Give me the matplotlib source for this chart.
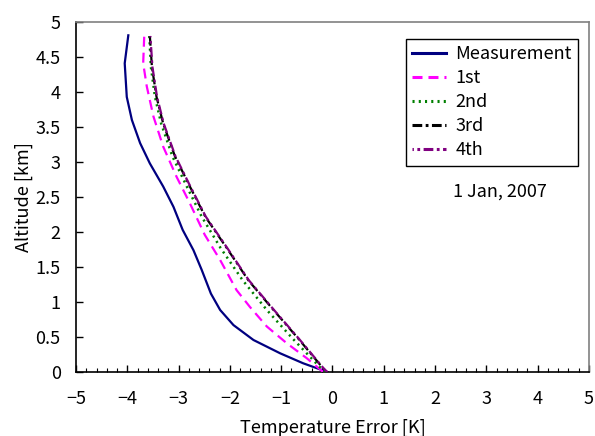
import numpy as np
import matplotlib
matplotlib.use("Agg")
import matplotlib.pyplot as plt
import matplotlib.ticker as mticker

plt.rcParams.update({
    "font.family": ["Noto Sans CJK JP", "DejaVu Sans"],
    "font.size": 13,
    "axes.unicode_minus": True,
    "lines.scale_dashes": False,
})

# altitude [km] vs temperature error [K]
alt_meas = [4.81, 4.41, 3.93, 3.6, 3.27, 2.98, 2.65, 2.36, 2.03, 1.74, 1.46, 1.12,
            0.886, 0.67, 0.457, 0.267, 0.124, 0.0]
err_meas = [-3.98, -4.05, -4.01, -3.91, -3.75, -3.56, -3.30, -3.10, -2.92, -2.71, -2.55, -2.37,
            -2.19, -1.93, -1.54, -1.02, -0.57, -0.10]

alt_1st = [4.79, 4.41, 4.08, 3.65, 3.22, 2.79, 2.41, 1.96, 1.6, 1.17, 0.93, 0.65, 0.41, 0.196, 0.0]
err_1st = [-3.67, -3.69, -3.62, -3.49, -3.30, -3.04, -2.78, -2.49, -2.19, -1.87, -1.61, -1.28,
           -0.89, -0.50, -0.18]

alt_it = [4.8, 4.36, 3.93, 3.55, 3.08, 2.65, 2.22, 1.77, 1.31, 0.886, 0.48, 0.05, 0.0]
err_2nd = [-3.57, -3.54, -3.46, -3.34, -3.12, -2.84, -2.55, -2.18, -1.75, -1.28, -0.78, -0.22, -0.13]
err_3rd = [-3.56, -3.52, -3.43, -3.30, -3.07, -2.78, -2.48, -2.06, -1.64, -1.15, -0.67, -0.18, -0.11]
err_4th = [-3.55, -3.51, -3.42, -3.29, -3.06, -2.77, -2.47, -2.05, -1.63, -1.14, -0.66, -0.17, -0.10]

fig = plt.figure(figsize=(5.95, 4.36), dpi=100)
ax = fig.add_axes([0.1277, 0.1468, 0.8622, 0.8027])

ax.plot(err_meas, alt_meas, color="#000080", lw=1.6, label="Measurement", zorder=2)
ax.plot(err_1st, alt_1st, color="#FF00FF", lw=1.6, linestyle=(0, (7.2, 4.3)), label="1st", zorder=3)
ax.plot(err_2nd, alt_it, color="#008000", lw=1.8, linestyle=(0, (1.5, 3.0)), label="2nd", zorder=4)
ax.plot(err_3rd, alt_it, color="#000000", lw=1.6, linestyle=(0, (7.0, 2.5, 2.0, 2.5)),
        label="3rd", zorder=5)
ax.plot(err_4th, alt_it, color="#800080", lw=1.6, linestyle=(6, (7.0, 2.5, 2.0, 2.5)),
        label="4th", zorder=6)

ax.set_xlim(-5, 5)
ax.set_ylim(0, 5)
ax.xaxis.set_major_locator(mticker.MultipleLocator(1))
ax.xaxis.set_minor_locator(mticker.MultipleLocator(0.2))
ax.yaxis.set_major_locator(mticker.MultipleLocator(0.5))
ax.yaxis.set_major_formatter(mticker.FuncFormatter(lambda v, _: f"{v:g}"))
ax.tick_params(axis="x", which="major", direction="in", length=5, width=1, pad=13)
ax.tick_params(axis="x", which="minor", direction="in", length=3, width=0.8)
ax.tick_params(axis="y", which="major", direction="in", length=5, width=1, pad=11)
for s in ("top", "right"):
    ax.spines[s].set_color("#808080")
    ax.spines[s].set_linewidth(1.2)
for s in ("left", "bottom"):
    ax.spines[s].set_color("#000000")
    ax.spines[s].set_linewidth(1.2)

ax.set_xlabel("Temperature Error [K]", labelpad=8)
ax.set_ylabel("Altitude [km]", labelpad=2)

leg = ax.legend(loc="upper right", bbox_to_anchor=(0.9786, 0.951), borderaxespad=0,
                fancybox=False, framealpha=1, edgecolor="#000000", handlelength=1.9,
                labelspacing=0.33, handletextpad=0.5, borderpad=0.35)
leg.get_frame().set_linewidth(1.0)
for h in leg.get_lines():
    h.set_linewidth(2.2)

ax.text(3.27, 2.57, "1 Jan, 2007", ha="center", va="center")

fig.savefig("out.png", dpi=100)
